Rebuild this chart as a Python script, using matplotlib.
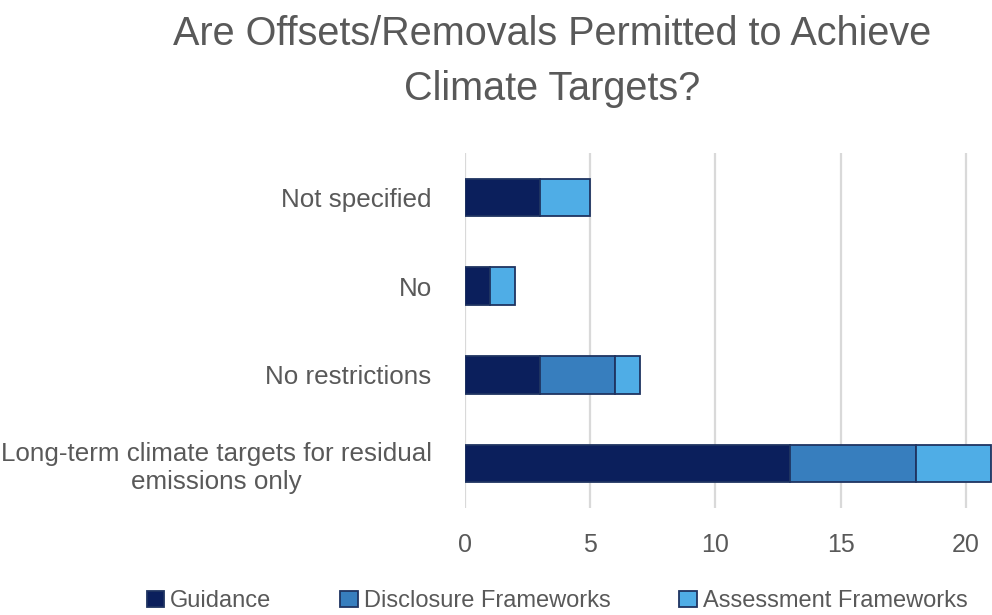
import matplotlib.pyplot as plt
import numpy as np

categories = ["Not specified", "No", "No restrictions",
              "Long-term climate targets for residual\nemissions only"]
series = ["Guidance", "Disclosure Frameworks", "Assessment Frameworks"]
guidance = [3, 1, 3, 13]
disclosure = [0, 0, 3, 5]
assessment = [2, 1, 1, 3]
colors = ["#0B1F5C", "#377EBE", "#4FADE6"]
xticks = [0, 5, 10, 15, 20]

plt.rcParams['font.family'] = ['Liberation Sans', 'DejaVu Sans']
text_col = "#595959"

fig = plt.figure(figsize=(9.92, 6.15), dpi=100)
ax = fig.add_axes([465 / 992, 1 - 508 / 615, 527 / 992, 355 / 615])

y = np.arange(len(categories))[::-1]
left = np.zeros(len(categories))
for vals, name, c in zip([guidance, disclosure, assessment], series, colors):
    vals = np.array(vals, dtype=float)
    ax.barh(y, vals, left=left, height=0.42, color=c, edgecolor="#1F3461",
            linewidth=1.3, label=name, zorder=3)
    left += vals

ax.set_xlim(0, 21.05)
ax.set_ylim(-0.5, 3.5)
ax.set_xticks(xticks)
ax.set_yticks(y)
ax.set_yticklabels(categories, multialignment="center")
ax.tick_params(axis="both", length=0, colors=text_col)
ax.tick_params(axis="y", pad=24, labelsize=18.7)
ax.tick_params(axis="x", pad=18, labelsize=18)
ax.grid(axis="x", color="#D9D9D9", linewidth=1.6, zorder=0)
for s in ax.spines.values():
    s.set_visible(False)

fig.text(552 / 992, 1 - 34 / 615, "Are Offsets/Removals Permitted to Achieve",
         ha="center", va="center", fontsize=28.5, color=text_col)
fig.text(552 / 992, 1 - 89 / 615, "Climate Targets?",
         ha="center", va="center", fontsize=28.5, color=text_col)

fig.legend(loc="center", bbox_to_anchor=(557 / 992, 1 - 601 / 615), ncol=3,
           frameon=False, handlelength=0.75, handleheight=0.65,
           handletextpad=0.25, columnspacing=2.9, labelcolor=text_col,
           fontsize=17)

fig.savefig("out.png", dpi=100)
